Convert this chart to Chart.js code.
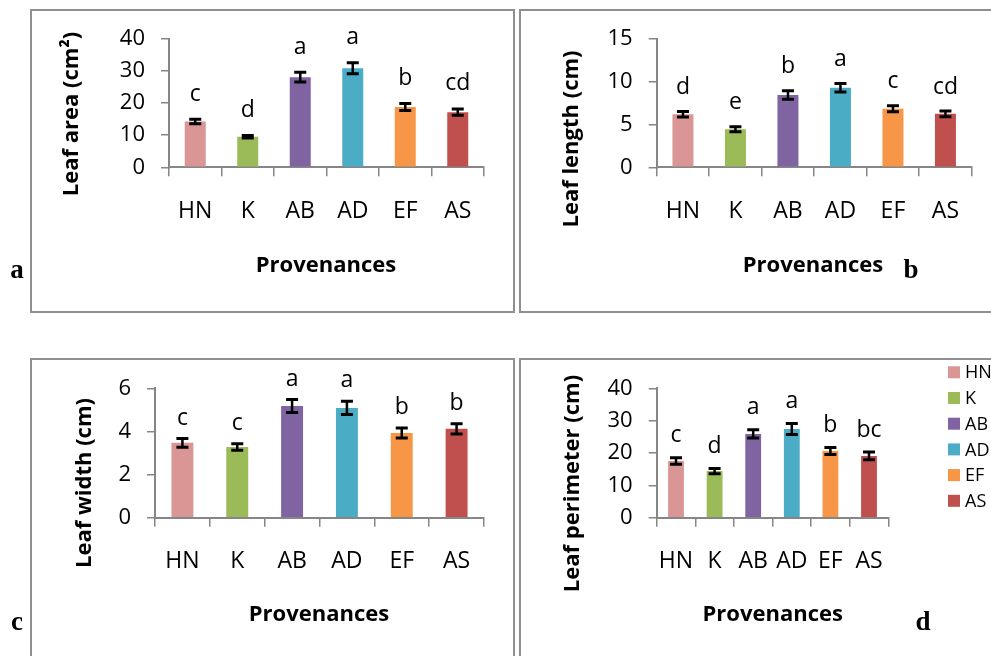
<!DOCTYPE html>
<html>
<head>
<meta charset="utf-8">
<script src="https://cdn.jsdelivr.net/npm/chart.js@4/dist/chart.umd.min.js"></script>
<style>
  html, body { margin: 0; padding: 0; background: #fff; }
  body { width: 991px; height: 656px; position: relative; overflow: hidden; }
  .frame { position: absolute; border: 2px solid #8f8f8f; box-sizing: border-box; }
  canvas { position: absolute; }
</style>
</head>
<body>
<div class="frame" style="left:30px;top:9px;width:485px;height:304px"></div>
<div class="frame" style="left:519px;top:9px;width:500px;height:304px"></div>
<div class="frame" style="left:30px;top:358px;width:485px;height:320px"></div>
<div class="frame" style="left:519px;top:358px;width:500px;height:320px"></div>

<canvas id="panelA" width="517" height="330" style="left:0;top:0;width:517px;height:330px"></canvas>
<canvas id="panelB" width="474" height="330" style="left:517px;top:0;width:474px;height:330px"></canvas>
<canvas id="panelC" width="517" height="326" style="left:0;top:330px;width:517px;height:326px"></canvas>
<canvas id="panelD" width="474" height="326" style="left:517px;top:330px;width:474px;height:326px"></canvas>

<script>
// Provenances and their bar colours
const provenances = ['HN', 'K', 'AB', 'AD', 'EF', 'AS'];
const provenanceColors = ['#D99694', '#9BBB59', '#8064A2', '#4BACC6', '#F79646', '#C0504D'];

// Leaf area (cm²): means, standard errors, significance letters
const leafArea = [14.3, 9.5, 28.1, 30.9, 18.8, 17.2];
const leafAreaErr = [0.7, 0.4, 1.5, 1.7, 1.1, 1.0];
const leafAreaGroups = ['c', 'd', 'a', 'a', 'b', 'cd'];

// Leaf length (cm)
const leafLength = [6.2, 4.45, 8.45, 9.3, 6.85, 6.25];
const leafLengthErr = [0.33, 0.29, 0.5, 0.49, 0.35, 0.33];
const leafLengthGroups = ['d', 'e', 'b', 'a', 'c', 'cd'];

// Leaf width (cm)
const leafWidth = [3.47, 3.28, 5.18, 5.09, 3.93, 4.12];
const leafWidthErr = [0.2, 0.15, 0.3, 0.31, 0.23, 0.24];
const leafWidthGroups = ['c', 'c', 'a', 'a', 'b', 'b'];

// Leaf perimeter (cm)
const leafPerimeter = [17.5, 14.4, 25.9, 27.4, 20.6, 19.1];
const leafPerimeterErr = [1.0, 0.8, 1.3, 1.7, 1.1, 1.2];
const leafPerimeterGroups = ['c', 'd', 'a', 'a', 'b', 'bc'];

const FONT = '"Open Sans", "DejaVu Sans", sans-serif';
const AXIS_GREY = '#868686';

// Error bars, group letters, axis titles, panel tag and optional legend
const panelExtras = {
  id: 'panelExtras',
  afterDatasetsDraw(chart, args, o) {
    const ctx = chart.ctx;
    const meta = chart.getDatasetMeta(0);
    const ys = chart.scales.y;
    const vals = chart.data.datasets[0].data;
    ctx.save();
    meta.data.forEach((bar, i) => {
      const v = vals[i], e = o.errors[i];
      const yTop = ys.getPixelForValue(v + e);
      const yBot = ys.getPixelForValue(v - e);
      ctx.strokeStyle = '#000';
      ctx.lineWidth = 2.5;
      ctx.beginPath();
      ctx.moveTo(bar.x, yTop); ctx.lineTo(bar.x, yBot);
      ctx.stroke();
      ctx.lineWidth = 3;
      ctx.beginPath();
      ctx.moveTo(bar.x - 6, yTop); ctx.lineTo(bar.x + 6, yTop);
      ctx.moveTo(bar.x - 6, yBot); ctx.lineTo(bar.x + 6, yBot);
      ctx.stroke();
      ctx.fillStyle = '#000';
      ctx.font = '23px ' + FONT;
      ctx.textAlign = 'center';
      ctx.textBaseline = 'alphabetic';
      ctx.fillText(o.groups[i], bar.x, yTop - o.letterGap);
    });
    ctx.restore();
  },
  afterDraw(chart, args, o) {
    const ctx = chart.ctx;
    ctx.save();
    ctx.fillStyle = '#000';
    // y axis title
    ctx.save();
    ctx.translate(o.yTitleAt[0], o.yTitleAt[1]);
    ctx.rotate(-Math.PI / 2);
    ctx.font = 'bold 22px ' + FONT;
    ctx.textAlign = 'center';
    ctx.textBaseline = 'alphabetic';
    ctx.fillText(o.yTitle, 0, 0);
    ctx.restore();
    // x axis title
    ctx.font = 'bold 22px ' + FONT;
    ctx.textAlign = 'center';
    ctx.textBaseline = 'alphabetic';
    ctx.fillText(o.xTitle, o.xTitleAt[0], o.xTitleAt[1]);
    // panel tag
    ctx.font = 'bold 27px "Liberation Serif", "DejaVu Serif", serif';
    ctx.fillText(o.tag, o.tagAt[0], o.tagAt[1]);
    // legend
    if (o.legend) {
      const L = o.legend;
      ctx.font = '18px ' + FONT;
      ctx.textAlign = 'left';
      ctx.textBaseline = 'middle';
      chart.data.labels.forEach((lab, i) => {
        const cy = L.y + i * L.step;
        ctx.fillStyle = chart.data.datasets[0].backgroundColor[i];
        ctx.fillRect(L.x, cy - 6, 12, 12);
        ctx.fillStyle = '#000';
        ctx.fillText(lab, L.x + 17, cy + 1);
      });
    }
    ctx.restore();
  }
};

function buildPanel(canvasId, values, errors, groups, yMax, yStep, box, extras) {
  return new Chart(document.getElementById(canvasId), {
    type: 'bar',
    data: {
      labels: provenances,
      datasets: [{
        data: values,
        backgroundColor: provenanceColors,
        borderWidth: 0,
        barPercentage: box.barPct,
        categoryPercentage: 1.0
      }]
    },
    options: {
      responsive: false,
      animation: false,
      events: [],
      layout: { padding: { left: box.padL, right: box.padR, top: box.padT, bottom: box.padB } },
      plugins: {
        legend: { display: false },
        tooltip: { enabled: false },
        panelExtras: Object.assign({ errors: errors, groups: groups }, extras)
      },
      scales: {
        x: {
          afterFit: s => { s.height = box.xH; },
          grid: { display: true, drawOnChartArea: false, drawTicks: true, tickLength: 9, color: AXIS_GREY, lineWidth: 1.5 },
          border: { display: true, color: AXIS_GREY, width: 2 },
          ticks: { color: '#000', font: { family: FONT, size: 23 }, padding: 21, autoSkip: false, maxRotation: 0 }
        },
        y: {
          min: 0, max: yMax,
          afterFit: s => { s.width = box.yW; },
          grid: { display: true, drawOnChartArea: false, drawTicks: true, tickLength: 8, color: AXIS_GREY, lineWidth: 1.5 },
          border: { display: true, color: AXIS_GREY, width: 2 },
          ticks: { stepSize: yStep, color: '#000', font: { family: FONT, size: 22 }, padding: 16 }
        }
      }
    },
    plugins: [panelExtras]
  });
}

buildPanel('panelA', leafArea, leafAreaErr, leafAreaGroups, 40, 10,
  { padL: 100, yW: 69, padR: 33, padT: 39, padB: 102.7, xH: 60, barPct: 0.4 },
  { letterGap: 18.5, yTitle: 'Leaf area (cm\u00B2)', yTitleAt: [78.3, 114],
    xTitle: 'Provenances', xTitleAt: [326, 271.7], tag: 'a', tagAt: [17, 278.3] });

buildPanel('panelB', leafLength, leafLengthErr, leafLengthGroups, 15, 5,
  { padL: 80, yW: 59.7, padR: 19.3, padT: 39, padB: 102.7, xH: 60, barPct: 0.4 },
  { letterGap: 17.5, yTitle: 'Leaf length (cm)', yTitleAt: [61.3, 139],
    xTitle: 'Provenances', xTitleAt: [296, 271.7], tag: 'b', tagAt: [394, 278.3] });

buildPanel('panelC', leafWidth, leafWidthErr, leafWidthGroups, 6, 2,
  { padL: 100, yW: 55, padR: 33, padT: 58.3, padB: 78.3, xH: 60, barPct: 0.4 },
  { letterGap: 14, yTitle: 'Leaf width (cm)', yTitleAt: [90.7, 153],
    xTitle: 'Provenances', xTitleAt: [319, 290.7], tag: 'c', tagAt: [17, 300] });

buildPanel('panelD', leafPerimeter, leafPerimeterErr, leafPerimeterGroups, 40, 10,
  { padL: 80, yW: 59.7, padR: 102.7, padT: 58.3, padB: 78.3, xH: 60, barPct: 0.41 },
  { letterGap: 15.5, yTitle: 'Leaf perimeter (cm)', yTitleAt: [62, 153.5],
    xTitle: 'Provenances', xTitleAt: [255.7, 290.7], tag: 'd', tagAt: [406, 300],
    legend: { x: 431, y: 42.3, step: 25.7 } });
</script>
</body>
</html>
